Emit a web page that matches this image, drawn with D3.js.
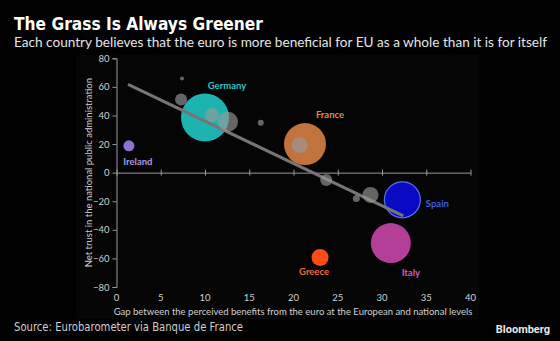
<!DOCTYPE html>
<html>
<head>
<meta charset="utf-8">
<script src="https://cdn.jsdelivr.net/npm/d3@7"></script>
<style>
    body { margin: 0; background: #000; }
    svg { display: block; }
</style>
</head>
<body>
<div id="chart"></div>
<script>
// Countries that are named on the chart
const countries = ['Germany', 'France', 'Spain', 'Italy', 'Greece', 'Ireland'];
const countryGap = [10.0, 21.3, 32.3, 31.0, 23.0, 1.4];
const countryTrust = [38.6, 20.0, -19.0, -49.3, -59.3, 18.8];
const countrySize = [24, 21, 18, 20, 8.5, 5.5];

// Other member states, unlabelled grey bubbles
const otherGap = [10.8, 12.6, 7.3, 7.4, 16.3, 20.7, 23.7, 27.1, 28.7];
const otherTrust = [40.3, 35.6, 51.2, 65.9, 34.9, 19.2, -5.1, -18.1, -15.6];
const otherSize = [7, 10, 6, 2, 3, 8, 6, 3.5, 8];

// Fitted trend line end points
const trendGap = [1.3, 32.4];
const trendTrust = [61.8, -30.2];

const xTicks = [0, 5, 10, 15, 20, 25, 30, 35, 40];
const yTicks = [-80, -60, -40, -20, 0, 20, 40, 60, 80];

const fills = {
    Germany: '#1db3b0', France: '#c2733c', Spain: '#0a0ac4',
    Italy: '#b43f98', Greece: '#ff4b16', Ireland: '#8e72d6'
};
const labelColors = {
    Germany: '#2cc6c4', France: '#d98a55', Spain: '#3d5fe0',
    Italy: '#d35fae', Greece: '#ea6a34', Ireland: '#a69ada'
};
// label offsets relative to bubble centre
const labelPos = {
    Germany: [22, -31], France: [25, -29], Spain: [35, 5],
    Italy: [20, 30], Greece: [-6, 15], Ireland: [9, 17]
};

const W = 560, H = 341;
const svg = d3.select('#chart').append('svg')
    .attr('width', W).attr('height', H);

svg.append('rect').attr('width', W).attr('height', H).attr('fill', '#000');

// faint panel behind the plot
svg.append('rect')
    .attr('x', 76).attr('y', 55).attr('width', 403).attr('height', 264)
    .attr('fill', '#050505');

svg.append('text')
    .attr('x', 14).attr('y', 30)
    .attr('fill', '#fff')
    .style('font-family', 'DejaVu Sans, Verdana, sans-serif')
    .style('font-weight', 'bold')
    .style('font-size', '17px')
    .attr('textLength', 249).attr('lengthAdjust', 'spacingAndGlyphs')
    .text('The Grass Is Always Greener');

svg.append('text')
    .attr('x', 14).attr('y', 47)
    .attr('fill', '#e6e6e6')
    .style('font-family', 'Lato, "Open Sans", sans-serif')
    .style('font-size', '13px')
    .attr('textLength', 533).attr('lengthAdjust', 'spacingAndGlyphs')
    .text('Each country believes that the euro is more beneficial for EU as a whole than it is for itself');

const x = d3.scaleLinear().domain([0, 40]).range([116.5, 470.5]);
const y = d3.scaleLinear().domain([-80, 80]).range([287, 58.3]);

const axisFont = 'Lato, "Open Sans", sans-serif';
const axisColor = '#9a9a9a';

// y axis
const yAxis = svg.append('g')
    .attr('transform', `translate(${x(0)},0)`)
    .call(d3.axisLeft(y).tickValues(yTicks).tickSize(4).tickPadding(3).tickFormat(d3.format('d')));
yAxis.select('.domain').attr('stroke', axisColor);
yAxis.selectAll('.tick line').attr('stroke', axisColor);
yAxis.selectAll('.tick text')
    .attr('fill', '#d0d0d0')
    .style('font-family', axisFont)
    .style('font-size', '9.5px');

// x axis sits on the zero line
const xAxis = svg.append('g')
    .attr('transform', `translate(0,${y(0)})`)
    .call(d3.axisBottom(x).tickValues(xTicks).tickSize(0).tickFormat(''));
xAxis.select('.domain').attr('stroke', axisColor);
xAxis.selectAll('.tick line')
    .attr('y1', -3).attr('y2', 3)
    .attr('stroke', axisColor);

// x tick labels along the bottom
svg.append('g').selectAll('text')
    .data(xTicks)
    .join('text')
    .attr('x', d => x(d))
    .attr('y', 301)
    .attr('text-anchor', 'middle')
    .attr('fill', '#d0d0d0')
    .style('font-family', axisFont)
    .style('font-size', '9.5px')
    .text(d => d);

svg.append('text')
    .attr('x', 293).attr('y', 315)
    .attr('text-anchor', 'middle')
    .attr('fill', '#d0d0d0')
    .style('font-family', axisFont)
    .style('font-size', '9.5px')
    .text('Gap between the perceived benefits from the euro at the European and national levels');

svg.append('text')
    .attr('transform', `translate(92,${y(0)}) rotate(-90)`)
    .attr('text-anchor', 'middle')
    .attr('fill', '#d0d0d0')
    .style('font-family', axisFont)
    .style('font-size', '9.5px')
    .text('Net trust in the national public administration');

// named country bubbles
const named = countries.map((c, i) => ({
    name: c, gap: countryGap[i], trust: countryTrust[i], r: countrySize[i]
}));

svg.append('g').selectAll('circle')
    .data(named)
    .join('circle')
    .attr('cx', d => x(d.gap))
    .attr('cy', d => y(d.trust))
    .attr('r', d => d.r)
    .attr('fill', d => fills[d.name])
    .attr('stroke', d => d.name === 'Spain' ? '#5b6fe6' : 'none')
    .attr('stroke-width', 1.2);

// trend line
svg.append('line')
    .attr('x1', x(trendGap[0])).attr('y1', y(trendTrust[0]))
    .attr('x2', x(trendGap[1])).attr('y2', y(trendTrust[1]))
    .attr('stroke', '#757575')
    .attr('stroke-width', 3);

// other countries
const others = otherGap.map((g, i) => ({ gap: g, trust: otherTrust[i], r: otherSize[i] }));
svg.append('g').selectAll('circle')
    .data(others)
    .join('circle')
    .attr('cx', d => x(d.gap))
    .attr('cy', d => y(d.trust))
    .attr('r', d => d.r)
    .attr('fill', '#9a9a9a')
    .attr('fill-opacity', 0.65);

svg.append('g').selectAll('text')
    .data(named)
    .join('text')
    .attr('x', d => x(d.gap) + labelPos[d.name][0])
    .attr('y', d => y(d.trust) + labelPos[d.name][1])
    .attr('text-anchor', 'middle')
    .attr('dominant-baseline', 'middle')
    .attr('fill', d => labelColors[d.name])
    .style('font-family', axisFont)
    .style('font-weight', 'bold')
    .style('font-size', '9.5px')
    .text(d => d.name);

svg.append('text')
    .attr('x', 14).attr('y', 331)
    .attr('fill', '#cfcfcf')
    .style('font-family', 'DejaVu Sans, Verdana, sans-serif')
    .style('font-size', '12px')
    .attr('textLength', 229).attr('lengthAdjust', 'spacingAndGlyphs')
    .text('Source: Eurobarometer via Banque de France');

svg.append('text')
    .attr('x', 550).attr('y', 333)
    .attr('text-anchor', 'end')
    .attr('fill', '#e8e8e8')
    .style('font-family', 'Roboto, "Liberation Sans", sans-serif')
    .style('font-weight', 'bold')
    .style('font-size', '11px')
    .text('Bloomberg');
</script>
</body>
</html>
